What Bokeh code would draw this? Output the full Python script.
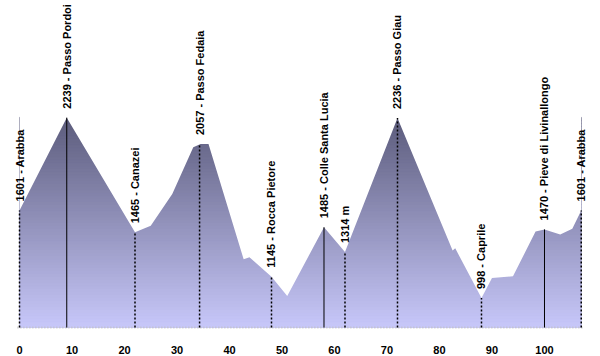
import numpy as np
from bokeh.plotting import figure
from bokeh.models import Range1d, FixedTicker
from bokeh.core.properties import value
from bokeh.embed import file_html
from bokeh.resources import INLINE

# profile (km, m)
km = [0, 9, 22, 25, 29.1, 33.1, 34.5, 36, 42.7, 43.8, 48, 51, 58, 62, 72, 82.5, 83, 88, 90, 94, 98.3, 100, 103, 105.3, 107]
elev = [1601, 2239, 1450, 1496, 1714, 2035, 2057, 2057, 1264, 1278, 1145, 1012, 1485, 1314, 2236, 1325, 1340, 998, 1135, 1148, 1455, 1470, 1435, 1475, 1601]

# landmarks
lm_km = [0, 9, 22, 34.3, 48, 58, 62, 72, 88, 100, 107]
lm_elev = [1601, 2239, 1450, 2057, 1145, 1485, 1314, 2236, 998, 1470, 1601]
lm_text = ["1601 - Arabba", "2239 - Passo Pordoi", "1465 - Canazei", "2057 - Passo Fedaia",
           "1145 - Rocca Pietore", "1485 - Colle Santa Lucia", "1314 m", "2236 - Passo Giau",
           "998 - Caprile", "1470 - Pieve di Livinallongo", "1601 - Arabba"]
lm_solid = [False, True, False, False, False, True, False, False, False, True, False]

ticks = [0, 10, 20, 30, 40, 50, 60, 70, 80, 90, 100]

base = 795
ytop = 3045

p = figure(width=600, height=356, output_backend="svg", toolbar_location=None,
           x_range=Range1d(-3.62, 110.67), y_range=Range1d(754, ytop),
           min_border_left=0, min_border_right=0, min_border_top=0, min_border_bottom=0)
p.outline_line_color = None
p.grid.visible = False
p.yaxis.visible = False
p.background_fill_color = "white"
p.border_fill_color = "white"

# gradient fill via horizontal bands, then white mask above profile
n = 70
top_c = np.array([0x5c, 0x5c, 0x7c])
bot_c = np.array([0xc8, 0xc8, 0xfa])
peak = max(elev)
edges = np.linspace(base, peak, n + 1)
cols = []
for i in range(n):
    t = (i + 0.5) / n
    c = bot_c + (top_c - bot_c) * t
    cols.append("#%02x%02x%02x" % tuple(int(round(v)) for v in c))
p.quad(left=min(km), right=max(km), bottom=edges[:-1], top=edges[1:] + 2,
       fill_color=cols, line_color=cols, line_width=1)
p.varea(x=km, y1=elev, y2=[ytop] * len(km), fill_color="white")

# baseline
p.segment(x0=[-0.4], y0=[base], x1=[107.4], y1=[base], line_color="#c0c0c0",
          line_width=2, line_dash="1 2")

# vertical lines
for xk, ev, solid in zip(lm_km, lm_elev, lm_solid):
    p.segment(x0=[xk], y0=[base], x1=[xk], y1=[ev], line_color="black",
              line_width=1 if solid else 1.5, line_dash="solid" if solid else "2 2")

# labels
p.text(x=lm_km, y=lm_elev, text=lm_text, angle=np.pi / 2, text_align="left",
       text_baseline="middle", y_offset=-9, text_font=value("Liberation Sans"),
       text_font_style="bold", text_font_size="11px", text_color="black")

ax = p.xaxis[0]
ax.ticker = FixedTicker(ticks=ticks)
ax.axis_line_color = None
ax.major_tick_line_color = None
ax.minor_tick_line_color = None
ax.major_label_text_font = "Liberation Sans"
ax.major_label_text_font_style = "bold"
ax.major_label_text_font_size = "11px"
ax.major_label_text_color = "black"
ax.major_label_standoff = 6

open("out.html", "w").write(file_html(p, INLINE))
